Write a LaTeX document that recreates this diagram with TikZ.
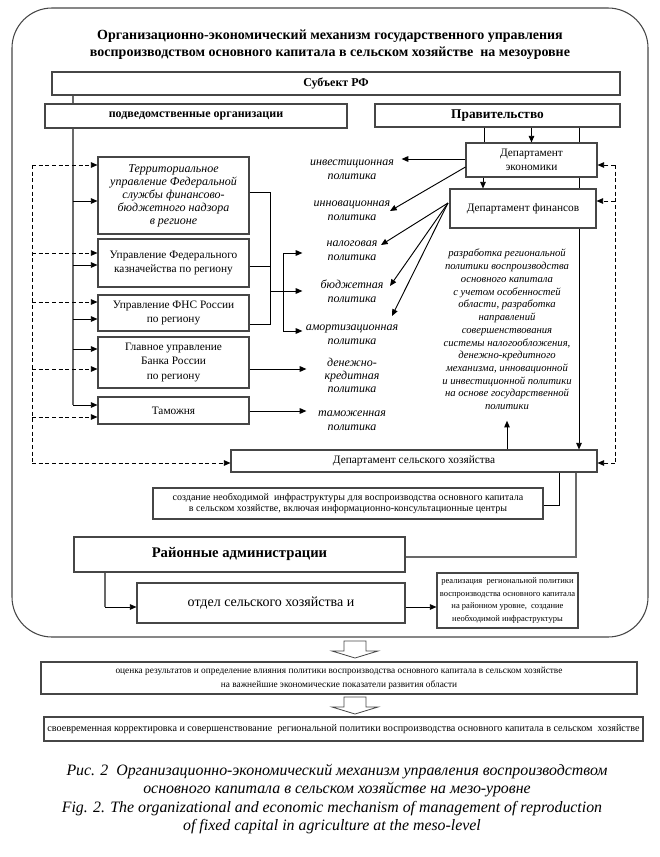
\documentclass[tikz,border=0pt]{standalone}
\usepackage{fontspec}
\setmainfont{Liberation Serif}
\usepackage{tikz}
\usetikzlibrary{arrows.meta,positioning,calc}
\definecolor{frameGray}{RGB}{70,70,70}
\definecolor{linkGray}{RGB}{105,105,105}
\newlength\pxl
\setlength\pxl{0.75pt}

\begin{document}
\begin{tikzpicture}[x=\pxl, y=-\pxl,
    box/.style={draw=frameGray, line width=0.8pt, align=center, inner sep=1pt,
                font=\fontsize{8.5}{10.5}\selectfont},
    headbox/.style={box, font=\fontsize{9}{11}\selectfont\bfseries},
    policy/.style={align=center, inner sep=1pt, text width=96\pxl,
                   font=\fontsize{9}{10.8}\selectfont\itshape},
    arr/.style={draw=black, line width=0.7pt, -{Triangle[length=5pt,width=4.2pt]}},
    dasharr/.style={arr, dash pattern=on 3pt off 2pt},
    dline/.style={draw=black, line width=0.6pt, dash pattern=on 3pt off 2pt},
    link/.style={draw=linkGray, line width=1.1pt},
    plain/.style={draw=black, line width=0.7pt}
  ]
  \useasboundingbox (0,0) rectangle (660,857);

  % outer frame
  \draw[frameGray, line width=0.8pt, rounded corners=30pt] (12,8) rectangle (648,637);
  \node[font=\fontsize{10.5}{12.8}\selectfont\bfseries, align=center] (title) at (330,44.5)
    {Организационно-экономический механизм государственного управления\\
     воспроизводством основного капитала в сельском хозяйстве \ на мезоуровне};

  % top level
  \node[headbox, minimum width=568\pxl, minimum height=23\pxl] (subj) at (336,83.5) {Субъект РФ};
  \node[headbox, minimum width=302\pxl, minimum height=24\pxl] (podv) at (196,116) {подведомственные организации};
  \node[headbox, font=\fontsize{10}{12}\selectfont\bfseries,
        minimum width=245\pxl, minimum height=23\pxl] (prav) at (497.5,115.5) {Правительство};

  % departments
  \node[box, minimum width=131\pxl, minimum height=34\pxl] (depek) at (531.5,160) {Департамент\\экономики};
  \node[box, minimum width=146\pxl, minimum height=39\pxl] (depfin) at (523,208.5) {Департамент финансов};
  \node[box, minimum width=366\pxl, minimum height=22\pxl] (depsh) at (414,461) {Департамент сельского хозяйства};

  % subordinate organisations
  \node[box, font=\fontsize{9}{9.8}\selectfont\itshape, minimum width=151\pxl, minimum height=77\pxl] (terr) at (173.5,195.5)
    {Территориальное\\управление Федеральной\\службы финансово-\\бюджетного надзора\\в регионе};
  \node[box, minimum width=151\pxl, minimum height=48\pxl] (kazn) at (173.5,263) {Управление Федерального\\казначейства по региону};
  \node[box, minimum width=151\pxl, minimum height=36\pxl] (fns) at (173.5,313) {Управление ФНС России\\по региону};
  \node[box, font=\fontsize{8.5}{11.2}\selectfont, minimum width=151\pxl, minimum height=51\pxl] (bank) at (173.5,362.5)
    {Главное управление\\Банка России\\по региону};
  \node[box, minimum width=151\pxl, minimum height=27\pxl] (tam) at (173.5,410.5) {Таможня};

  % policies
  \node[policy] (invest) at (352,169.5) {инвестиционная\\политика};
  \node[policy] (innov) at (352,210.5) {инновационная\\политика};
  \node[policy] (nalog) at (352,250.5) {налоговая\\политика};
  \node[policy] (budzh) at (352,291) {бюджетная\\политика};
  \node[policy] (amort) at (352,335) {амортизационная\\политика};
  \node[policy, font=\fontsize{9}{9.8}\selectfont\itshape] (denkr) at (352,375) {денежно-\\кредитная\\политика};
  \node[policy] (tamozh) at (352,420.5) {таможенная\\политика};

  \node[align=center, inner sep=1pt, font=\fontsize{8}{9.56}\selectfont\itshape] (razrab) at (507,329.5)
    {разработка региональной\\политики воспроизводства\\основного капитала\\с учетом особенностей\\области, разработка\\направлений\\совершенствования\\системы налогообложения,\\денежно-кредитного\\механизма, инновационной\\и инвестиционной политики\\на основе государственной\\политики};

  % lower part
  \node[box, font=\fontsize{7.5}{8.6}\selectfont, minimum width=390\pxl, minimum height=31\pxl] (sozd) at (348,503.5)
    {создание необходимой \ инфраструктуры для воспроизводства основного капитала\\в сельском хозяйстве, включая информационно-консультационные центры};
  \node[headbox, font=\fontsize{11}{13}\selectfont\bfseries, minimum width=331\pxl, minimum height=35\pxl] (raion) at (239.5,554.5)
    {Районные администрации};
  \node[box, font=\fontsize{10.5}{12}\selectfont, minimum width=268\pxl, minimum height=40\pxl] (otdel) at (271,603)
    {отдел сельского хозяйства и};
  \node[box, font=\fontsize{6.4}{9.5}\selectfont, minimum width=141\pxl, minimum height=55\pxl] (real) at (507.5,600.5)
    {реализация \ региональной политики\\воспроизводства основного капитала\\на районном уровне, \ создание\\необходимой инфраструктуры};

  % outside the frame
  \node[box, font=\fontsize{7}{10.5}\selectfont, minimum width=596\pxl, minimum height=32\pxl] (ocenka) at (339,678)
    {оценка результатов и определение влияния политики воспроизводства основного капитала в сельском хозяйстве\\
     на важнейшие экономические показатели развития области};
  \node[box, font=\fontsize{7.6}{9}\selectfont, minimum width=599\pxl, minimum height=24\pxl] (svoevr) at (343.5,729)
    {своевременная корректировка и совершенствование \ региональной политики воспроизводства основного капитала в сельском \ хозяйстве};

  \node[align=center, inner sep=0pt, font=\fontsize{11.9}{13.5}\selectfont\itshape] (capru) at (337,781)
    {Рис. 2 \ Организационно-экономический механизм управления воспроизводством\\
     основного капитала в сельском хозяйстве на мезо-уровне};
  \node[align=center, inner sep=0pt, font=\fontsize{11.9}{13.5}\selectfont\itshape] (capen) at (332,818)
    {Fig. 2. The organizational and economic mechanism of management of reproduction\\
     of fixed capital in agriculture at the meso-level};

  % links of the left column
  \coordinate (trunk) at (73,405);
  \draw[link] (subj.south -| trunk) -- (podv.north -| trunk);
  \draw[link] (podv.south -| trunk) -- (trunk);
  \foreach \b/\y in {terr/201,kazn/265,fns/319,bank/349,tam/405}
    \draw[arr] (trunk |- 0,\y) -- (\b.west |- 0,\y);
  \coordinate (dtop) at (32,165);
  \coordinate (dbot) at (32,463);
  \draw[dline] (dtop) -- (dbot);
  \foreach \b/\y in {terr/165,kazn/253,fns/302,bank/369,tam/417}
    \draw[dasharr] (dtop |- 0,\y) -- (\b.west |- 0,\y);
  \draw[dasharr] (dbot) -- (depsh.west |- dbot);

  % tax bracket
  \draw[plain] (terr.east |- 0,192) -- (270,192) -- (270,324) -- (fns.east |- 0,324);
  \draw[plain] (kazn.east |- 0,266) -- (270,266);
  \draw[plain] (270,291) -- (283,291);
  \draw[plain] (283,253) -- (283,331);
  \foreach \p/\y in {nalog/253,budzh/291,amort/331}
    \draw[arr] (283,\y) -- (\p.west |- 0,\y);
  \draw[arr] (bank.east |- 0,369) -- ([xshift=3pt]denkr.west |- 0,369);
  \draw[arr] (tam.east |- 0,411) -- ([xshift=3pt]tamozh.west |- 0,411);

  % government
  \draw[arr] (prav.south -| depek) -- (depek.north);
  \draw[plain] (prav.south -| 484,0) -- (depek.north -| 484,0);
  \draw[plain] (prav.south -| 579,0) -- (depek.north -| 579,0);
  \draw[plain] (depek.south -| 579,0) -- (depfin.north -| 579,0);
  \draw[arr] (depek.south -| 483,0) -- (depfin.north -| 483,0);
  \draw[arr] (depfin.south -| 579,0) -- (depsh.north -| 579,0);

  % policy arrows
  \coordinate (fan) at (448,203);
  \coordinate (tinnov) at (390,211);
  \coordinate (tnalog) at (381,245);
  \coordinate (tbudzh) at (390,286);
  \coordinate (tamort) at (392,316);
  \draw[arr] (depek.west |- 0,159) -- (invest.east |- 0,159);
  \draw[arr] (depek.west |- 0,167) -- (tinnov);
  \foreach \t in {tnalog,tbudzh,tamort}
    \draw[arr] (fan) -- (\t);

  % right feedback
  \coordinate (rtop) at (615,165);
  \coordinate (rbot) at (615,463);
  \draw[dline] (rtop) -- (rbot);
  \draw[dasharr] (rtop) -- (depek.east |- rtop);
  \draw[dasharr] (rtop |- 0,201) -- (depfin.east |- 0,201);
  \draw[dasharr] (rbot) -- (depsh.east |- rbot);

  % agriculture department
  \draw[arr, shorten >=7pt] (depsh.north -| razrab.south) -- (razrab.south);
  \draw[plain] (depsh.south -| 559,0) -- (559,505) -- (sozd.east |- 0,505);
  \draw[link] (depsh.south -| 576,0) -- (576,557) -- (raion.east |- 0,557);
  \draw[link] (raion.south -| 105,0) -- (105,607);
  \draw[arr] (105,607) -- (otdel.west |- 0,607);
  \draw[arr] (otdel.east |- 0,607) -- (real.west |- 0,607);

  % hollow arrows
  \draw[frameGray, line width=0.6pt] (344,641) -- (366,641) -- (366,651) -- (378,651) -- (355,658)
    -- (332,651) -- (344,651) -- cycle;
  \draw[frameGray, line width=0.6pt] (344,697) -- (366,697) -- (366,707) -- (378,707) -- (355,714)
    -- (332,707) -- (344,707) -- cycle;
\end{tikzpicture}
\end{document}
